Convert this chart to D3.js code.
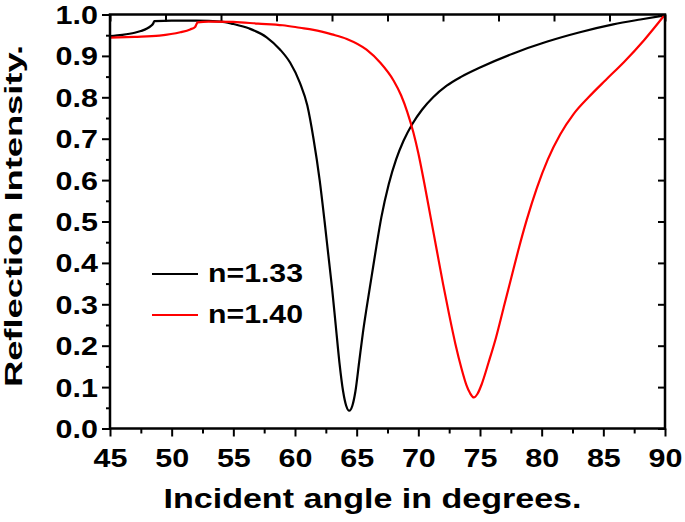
<!DOCTYPE html>
<head>
<meta charset="utf-8">
<style>
body { margin: 0; background: #fff; }
text { font-family: "Liberation Sans", Arial, sans-serif; font-weight: bold; fill: #000; }
</style>
</head>
<body>
<div id="chart"></div>
<script src="https://d3js.org/d3.v7.min.js"></script>
<script>
// values
var blackAngle = [45, 46, 47, 47.5, 48, 48.3, 48.5, 48.6, 50, 52, 54, 55, 56.3, 57.7, 58.8, 59.6, 60.4, 61.0, 61.5, 62.0, 62.4, 62.7, 63.0, 63.3, 63.6, 63.9, 64.15, 64.4, 64.65, 64.9, 65.2, 65.5, 65.8, 66.2, 66.6, 67.0, 67.6, 68.2, 68.8, 69.5, 70.3, 71.2, 72.3, 73.5, 75, 77.7, 80.4, 83.1, 85.8, 88, 90];
var blackR = [0.948, 0.951, 0.956, 0.960, 0.966, 0.972, 0.978, 0.984, 0.985, 0.985, 0.983, 0.977, 0.966, 0.945, 0.915, 0.884, 0.835, 0.78, 0.70, 0.60, 0.50, 0.42, 0.34, 0.25, 0.16, 0.09, 0.055, 0.043, 0.055, 0.09, 0.16, 0.23, 0.29, 0.365, 0.44, 0.51, 0.59, 0.65, 0.695, 0.735, 0.77, 0.80, 0.828, 0.85, 0.872, 0.906, 0.934, 0.957, 0.976, 0.988, 0.998];

var redAngle = [45, 47, 49, 50.7, 51.5, 51.9, 52.0, 52.1, 53, 55, 57, 59, 60.4, 61.5, 63, 64.2, 65.8, 66.9, 68.0, 68.6, 69.1, 69.6, 70.0, 70.5, 71.0, 71.5, 72.0, 72.5, 73.0, 73.5, 73.9, 74.2, 74.5, 74.8, 75.15, 75.7, 76.3, 76.9, 77.5, 78.1, 78.8, 79.6, 80.5, 81.5, 82.6, 83.8, 85.2, 86.7, 88.3, 90];
var redR = [0.944, 0.946, 0.949, 0.957, 0.964, 0.970, 0.976, 0.981, 0.983, 0.982, 0.978, 0.974, 0.968, 0.963, 0.952, 0.941, 0.915, 0.884, 0.84, 0.805, 0.765, 0.715, 0.665, 0.59, 0.51, 0.43, 0.35, 0.275, 0.205, 0.145, 0.105, 0.085, 0.075, 0.084, 0.108, 0.16, 0.22, 0.29, 0.36, 0.43, 0.505, 0.58, 0.65, 0.71, 0.76, 0.80, 0.842, 0.886, 0.938, 1.0];

var seriesNames = ["n=1.33", "n=1.40"];
var seriesColors = ["#000000", "#ff0000"];
var xTicks = [45, 50, 55, 60, 65, 70, 75, 80, 85, 90];
var yTicks = [0.0, 0.1, 0.2, 0.3, 0.4, 0.5, 0.6, 0.7, 0.8, 0.9, 1.0];

var W = 685, H = 522;
var margin = {top: 14.5, right: 20, bottom: 93.5, left: 110};
var width = W - margin.left - margin.right,
    height = H - margin.top - margin.bottom;
var stretch = 1.22; // glyphs in the picture are wide

var svg = d3.select("#chart").append("svg")
    .attr("width", W)
    .attr("height", H);
var g = svg.append("g")
    .attr("transform", "translate(" + margin.left + "," + margin.top + ")");

var x = d3.scaleLinear().domain([45, 90]).range([0, width]);
var y = d3.scaleLinear().domain([0, 1]).range([height, 0]);

// minor ticks
g.append("g")
    .attr("transform", "translate(0," + height + ")")
    .call(d3.axisBottom(x).tickValues(d3.range(47.5, 90, 5)).tickSize(5).tickFormat(""))
    .call(function(s) { s.select(".domain").remove(); });
g.append("g")
    .call(d3.axisLeft(y).tickValues(d3.range(0.05, 1, 0.1)).tickSize(4).tickFormat(""))
    .call(function(s) { s.select(".domain").remove(); });

// top and right mirror ticks, pointing in
g.append("g")
    .call(d3.axisBottom(x).tickValues(d3.range(0, 11).map(function(i) { return 45 + i * 4.5; })).tickSize(7).tickFormat(""))
    .call(function(s) { s.select(".domain").remove(); });
g.append("g")
    .attr("transform", "translate(" + width + ",0)")
    .call(d3.axisLeft(y).tickValues(yTicks).tickSize(7).tickFormat(""))
    .call(function(s) { s.select(".domain").remove(); });

// main axes
var xAxis = g.append("g")
    .attr("transform", "translate(0," + height + ")")
    .call(d3.axisBottom(x).tickValues(xTicks).tickSize(8).tickFormat(d3.format("d")));
xAxis.select(".domain").remove();
xAxis.selectAll("text")
    .attr("y", 38.5).attr("dy", null)
    .attr("transform", "scale(" + stretch + ",1)")
    .style("font-size", "25px");

var yAxis = g.append("g")
    .call(d3.axisLeft(y).tickValues(yTicks).tickSize(8).tickFormat(d3.format(".1f")));
yAxis.select(".domain").remove();
yAxis.selectAll("text")
    .attr("x", -12 / stretch).attr("dy", "0.36em")
    .attr("transform", "scale(" + stretch + ",1)")
    .style("font-size", "25px");

svg.selectAll(".tick line").attr("stroke", "#000").attr("stroke-width", 2);

// curves
var line = d3.line()
    .x(function(d) { return x(d[0]); })
    .y(function(d) { return y(d[1]); })
    .curve(d3.curveMonotoneX);

var series = [d3.zip(blackAngle, blackR), d3.zip(redAngle, redR)];
g.selectAll(".curve")
    .data(series)
  .enter().append("path")
    .attr("class", "curve")
    .attr("d", line)
    .attr("fill", "none")
    .attr("stroke", function(d, i) { return seriesColors[i]; })
    .attr("stroke-width", 2.2);

// frame
g.append("rect")
    .attr("width", width)
    .attr("height", height)
    .attr("fill", "none")
    .attr("stroke", "#000")
    .attr("stroke-width", 2.5);

// legend
var legend = svg.selectAll(".legend")
    .data(seriesNames)
  .enter().append("g")
    .attr("class", "legend")
    .attr("transform", function(d, i) { return "translate(152," + (274 + i * 41) + ")"; });
legend.append("line")
    .attr("x1", 0).attr("x2", 46)
    .attr("stroke", function(d, i) { return seriesColors[i]; })
    .attr("stroke-width", 2.2);
legend.append("text")
    .attr("x", 56).attr("y", 8)
    .attr("textLength", 95).attr("lengthAdjust", "spacingAndGlyphs")
    .style("font-size", "25px")
    .text(function(d) { return d; });

// axis titles
svg.append("text")
    .attr("text-anchor", "middle")
    .attr("x", 372.5).attr("y", 508)
    .attr("textLength", 418).attr("lengthAdjust", "spacingAndGlyphs")
    .style("font-size", "28px")
    .text("Incident angle in degrees.");
svg.append("text")
    .attr("text-anchor", "middle")
    .attr("transform", "translate(22,216)rotate(-90)")
    .attr("textLength", 342).attr("lengthAdjust", "spacingAndGlyphs")
    .style("font-size", "24px")
    .text("Reflection Intensity.");
</script>
</body>
</html>
